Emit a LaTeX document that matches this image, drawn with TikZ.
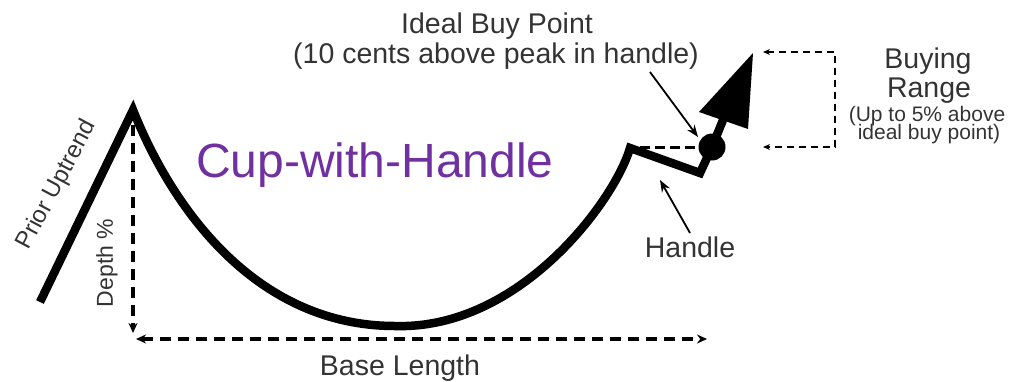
\documentclass[tikz,border=0pt]{standalone}
\usepackage{fontspec}
\setmainfont{Liberation Sans}
\usetikzlibrary{arrows.meta}
\definecolor{txt}{HTML}{333333}
\definecolor{cuppurple}{HTML}{7030A0}
\begin{document}
\begin{tikzpicture}[x=1pt,y=-1pt,
  lbl/.style={text=txt, inner sep=0pt, font=\fontsize{28.5}{30}\selectfont},
  small/.style={text=txt, inner sep=0pt, font=\fontsize{21}{22}\selectfont},
  price/.style={line width=8.5pt, line join=miter, miter limit=10},
  dashthick/.style={line width=3.8pt, dash pattern=on 11pt off 7pt},
  dashthin/.style={line width=2pt, dash pattern=on 7pt off 5pt},
  pointer/.style={line width=1.8pt, -{Stealth[length=12pt,width=9pt]}},
  smalltip/.tip={Stealth[length=10pt,width=9pt]},
  tinytip/.tip={Stealth[length=7pt,width=6pt]}
]
\useasboundingbox (0,0) rectangle (1014,381);
% price path
\coordinate (start) at (40,302);
\coordinate (peak) at (133,110);
\coordinate (bottom) at (395,326);
\coordinate (hTop) at (630,148);
\coordinate (hLow) at (700,173);
\node[circle, fill=black, minimum size=27pt, inner sep=0pt] (buy) at (712,147) {};
\coordinate (tip) at (753,53);
\coordinate (headL) at (699,112);
\coordinate (headR) at (748,129);
\coordinate (headBase) at (723,120);
\draw[price] (start) -- (peak) .. controls (175,215) and (260,326) .. (bottom)
  .. controls (520,330) and (615,200) .. (hTop) -- (hLow) -- (buy.center);
\draw[line width=8.5pt] (buy.center) -- (headBase);
\fill[black] (tip) -- (headL) -- (headR) -- cycle;
% handle peak dashed line
\coordinate (hDash) at (640,147);
\draw[line width=3pt, dash pattern=on 10pt off 5pt] (hDash) -- (buy.west);
% buying range
\coordinate (rTopEnd) at (763,52);
\coordinate (rTop) at (835,52);
\coordinate (rBot) at (835,147);
\coordinate (rBotEnd) at (763,147);
\draw[dashthin, {tinytip}-{tinytip}] (rTopEnd) -- (rTop) -- (rBot) -- (rBotEnd);
% depth and base
\coordinate (depthTop) at (133,125);
\coordinate (depthBot) at (133,333);
\draw[dashthick, -{smalltip}] (depthTop) -- (depthBot);
\coordinate (baseL) at (136,339);
\coordinate (baseR) at (707,339);
\draw[dashthick, {smalltip}-{smalltip}] (baseL) -- (baseR);
% pointers
\coordinate (idealTail) at (650,72);
\coordinate (idealHead) at (698,137);
\draw[pointer] (idealTail) -- (idealHead);
\coordinate (handleTail) at (690,233);
\coordinate (handleHead) at (660,180);
\draw[pointer] (handleTail) -- (handleHead);
% labels
\node[lbl, anchor=base] (ideal1) at (497,33) {Ideal Buy Point};
\node[lbl, anchor=base] (ideal2) at (496,63) {(10 cents above peak in handle)};
\node[lbl, anchor=base] (buying) at (928,68) {Buying};
\node[lbl, anchor=base] (range) at (929,97) {Range};
\node[small, anchor=base] (upto) at (927,121) {(Up to 5\% above};
\node[small, anchor=base] (idealbp) at (929,139) {ideal buy point)};
\node[lbl, anchor=base] (handle) at (690,257) {Handle};
\node[lbl, anchor=base] (baselen) at (400,375) {Base Length};
\node[text=txt, inner sep=0pt, font=\fontsize{23}{24}\selectfont, rotate=90] (depth) at (107,263) {Depth \%};
\node[text=txt, inner sep=0pt, font=\fontsize{24}{25}\selectfont, rotate=62] (prior) at (57,185) {Prior Uptrend};
\node[text=cuppurple, inner sep=0pt, font=\fontsize{48}{50}\selectfont, anchor=base] (title) at (375,177) {Cup-with-Handle};
\end{tikzpicture}
\end{document}
